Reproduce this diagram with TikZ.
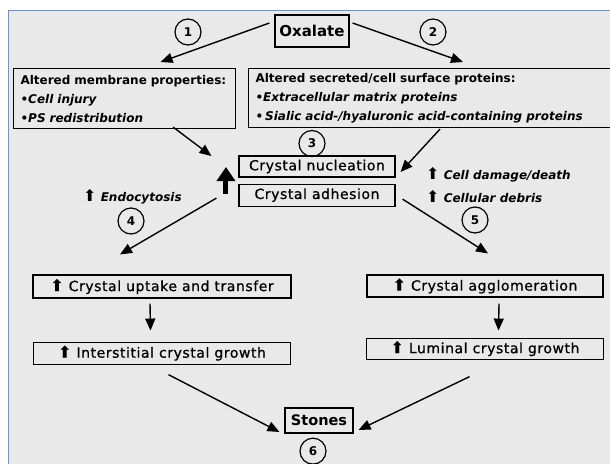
\documentclass[tikz,border=0pt]{standalone}
\usepackage{fontspec}
\setmainfont{DejaVu Sans}
\usetikzlibrary{calc,positioning,arrows.meta}

\definecolor{panelgray}{RGB}{233,233,233}
\definecolor{frameblue}{RGB}{104,150,214}

\newcommand{\incr}{{\upshape\mdseries\fontsize{16}{10}\selectfont ⬆}}

\tikzset{
	box/.style={draw, line width=1.1pt, inner sep=0pt},
	listbox/.style={box, anchor=north west, align=left, inner xsep=7pt, minimum height=60pt, font=\bfseries\fontsize{12}{19}\selectfont},
	stepbox/.style={box, minimum height=22pt, font=\fontsize{14}{16}\selectfont\addfontfeature{LetterSpace=4,FakeBold=0.8}},
	num/.style={circle, draw, line width=1.2pt, minimum size=26pt, inner sep=0pt, font=\bfseries\fontsize{12}{12}\selectfont},
	note/.style={anchor=west, inner sep=0pt, font=\bfseries\itshape\fontsize{12}{12}\selectfont},
	flow/.style={->, line width=1.4pt},
}

\begin{document}
\begin{tikzpicture}[x=1pt,y=-1pt,>={Triangle[length=12pt,width=10pt]}]
	\useasboundingbox (0,0) rectangle (610,463);
	\fill[panelgray] (8,10) rectangle (615,470);
	\draw[frameblue, line width=1pt] (8,470) -- (8,10) -- (615,10);
	%
	\node[box, minimum width=74pt, minimum height=32pt, font=\bfseries\fontsize{15}{15}\selectfont] (oxa) at (312,31) {Oxalate};
	\node[listbox, text width=208pt] (memb) at (13,68) {Altered membrane properties:\\ •\textit{Cell injury}\\ •\textit{PS redistribution}};
	\node[listbox, text width=350pt, minimum height=59pt] (prot) at (248,68) {Altered secreted/cell surface proteins:\\ •\textit{Extracellular matrix proteins}\\ •\,\textit{Sialic acid-/hyaluronic acid-containing proteins}};
	\node[stepbox, minimum width=156pt, minimum height=21pt] (nucl) at (317,166.5) {Crystal nucleation};
	\node[stepbox, minimum width=156pt, below=6pt of nucl] (adh) {Crystal adhesion};
	\node[stepbox, minimum width=258pt, minimum height=23pt] (uptake) at (162,286.5) {\incr\ Crystal uptake and transfer};
	\node[stepbox, minimum width=257pt, below=43pt of uptake] (inter) {\incr\ Interstitial crystal growth};
	\node[stepbox, minimum width=236pt] (agglo) at (485,286) {\incr\ Crystal agglomeration};
	\node[stepbox, minimum width=237pt, minimum height=21pt, below=40pt of agglo] (lumin) {\incr\ Luminal crystal growth};
	\node[box, minimum width=68pt, minimum height=25pt, font=\bfseries\fontsize{14.5}{15}\selectfont] (stones) at (319,420.5) {Stones};
	%
	\node[num] (n1) at (188,32) {1};
	\node[num] (n2) at (433,32) {2};
	\node[num] (n3) at (312,143.5) {3};
	\node[num] (n4) at (131,221) {4};
	\node[num] (n5) at (475,220) {5};
	\node[num, below=4pt of stones, xshift=-6pt] (n6) {6};
	%
	\node[note] (endo) at (83,197) {\incr\ Endocytosis};
	\node[note] (damage) at (426,175) {\incr\ Cell damage/death};
	\node[note] (debris) at (426,197) {\incr\ Cellular debris};
	%
	\draw[flow] ($(oxa.west)+(-5,-8)$) -- ($(memb.north)+(36,-6)$);
	\draw[flow] ($(oxa.east)+(3,-8)$) -- ($(prot.north west)+(215,-6)$);
	\draw[flow] ($(memb.south east)+(-63,-2)$) -- ($(nucl.west)+(-27,-10.5)$);
	\draw[flow] ($(prot.south west)+(192,1)$) -- ($(nucl.east)+(5,5.5)$);
	\draw[line width=5pt, -{Triangle[length=14pt,width=18pt]}] ($(adh.west)+(-12.5,-1)$) -- ($(nucl.west)+(-12.5,0.5)$);
	\draw[flow] ($(adh.west)+(-22,3)$) -- ($(uptake.north)+(-42,-20)$);
	\draw[flow] ($(adh.east)+(7,4)$) -- ($(agglo.north)+(3,-21)$);
	\draw[flow] ($(uptake.south)+(-12,5)$) -- ($(inter.north)+(-11.5,-11)$);
	\draw[flow] ($(agglo.south)+(14,6)$) -- ($(lumin.north)+(13.5,-7)$);
	\draw[flow] ($(inter.south)+(6.5,10)$) -- ($(stones.west)+(-5,11.5)$);
	\draw[flow] ($(lumin.south)+(-15.5,17)$) -- ($(stones.east)+(5,9.5)$);
\end{tikzpicture}
\end{document}
